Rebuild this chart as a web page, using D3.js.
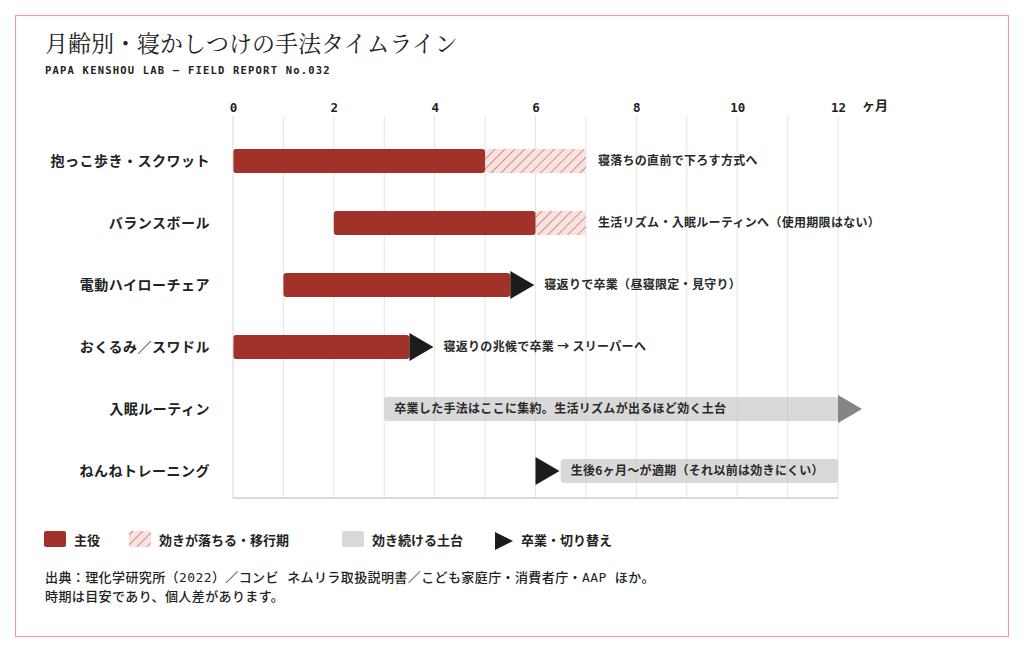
<!DOCTYPE html>
<html>
<head>
<meta charset="utf-8">
<script src="https://cdn.jsdelivr.net/npm/d3@7"></script>
<style>
  body { margin: 0; background: #fff; }
  svg text { font-family: "Noto Sans CJK JP", "Noto Sans", sans-serif; }
</style>
</head>
<body>
<div id="chart"></div>
<script>
// row labels
var methods = ["抱っこ歩き・スクワット", "バランスボール", "電動ハイローチェア", "おくるみ／スワドル", "入眠ルーティン", "ねんねトレーニング"];
// main phase (months)
var mainStart = [0, 2, 1, 0, null, null];
var mainEnd   = [5, 6, 5.5, 3.5, null, null];
// fading / transition phase ends (starts at mainEnd)
var fadeEnd   = [7, 7, null, null, null, null];
// base that keeps working
var baseStart = [null, null, null, null, 3, 6.5];
var baseEnd   = [null, null, null, null, 12, 12];
// graduate / switch marker (months)
var switchAt  = [null, null, 5.5, 3.5, 12, 6];
var switchKind = [null, null, "end", "end", "base", "end"];
var notes = [
  "寝落ちの直前で下ろす方式へ",
  "生活リズム・入眠ルーティンへ（使用期限はない）",
  "寝返りで卒業（昼寝限定・見守り）",
  "寝返りの兆候で卒業 → スリーパーへ",
  "卒業した手法はここに集約。生活リズムが出るほど効く土台",
  "生後6ヶ月〜が適期（それ以前は効きにくい）"
];
var tickMonths = [0, 2, 4, 6, 8, 10, 12];
var gridMonths = [1, 2, 3, 4, 5, 6, 7, 8, 9, 10, 11, 12];
var legendItems = ["主役", "効きが落ちる・移行期", "効き続ける土台", "卒業・切り替え"];
var sourceLines = [
  "出典：理化学研究所（2022）／コンビ ネムリラ取扱説明書／こども家庭庁・消費者庁・AAP ほか。",
  "時期は目安であり、個人差があります。"
];

var width = 1024, height = 652;
var red = "#a0322a", grey = "#c4c4c4", ink = "#1c1c1c";

var svg = d3.select("#chart").append("svg")
    .attr("width", width)
    .attr("height", height);

var defs = svg.append("defs");
var pat = defs.append("pattern")
    .attr("id", "hatch")
    .attr("patternUnits", "userSpaceOnUse")
    .attr("width", 7).attr("height", 7)
    .attr("patternTransform", "rotate(45)");
pat.append("rect").attr("width", 7).attr("height", 7).attr("fill", "#f8e3e1");
pat.append("line").attr("x1", 0).attr("y1", 0).attr("x2", 0).attr("y2", 7)
    .attr("stroke", "#d98a84").attr("stroke-width", 2);

// frame
svg.append("rect")
    .attr("x", 15.5).attr("y", 15.5)
    .attr("width", 993).attr("height", 621)
    .attr("fill", "#fff")
    .attr("stroke", "#e5a3a0").attr("stroke-width", 1.2);

// title
svg.append("text")
    .attr("x", 45).attr("y", 52)
    .style("font-family", "'Noto Serif CJK JP', 'Noto Serif JP', serif")
    .style("font-size", "23px")
    .attr("fill", "#222")
    .text("月齢別・寝かしつけの手法タイムライン");

svg.append("text")
    .attr("x", 45).attr("y", 74)
    .style("font-family", "'DejaVu Sans Mono', monospace")
    .style("font-size", "10.5px")
    .style("font-weight", "bold")
    .style("letter-spacing", "1.2px")
    .attr("fill", "#222")
    .text("PAPA KENSHOU LAB — FIELD REPORT No.032");

// scales
var x = d3.scaleLinear().domain([0, 12]).range([233, 838]);
var y = d3.scalePoint().domain(methods).range([161, 471]);
var barH = 24, arrowW = 24, arrowH = 28;
var gridTop = 116, gridBottom = 498;

// grid
svg.append("g").selectAll("line")
  .data(gridMonths)
  .join("line")
    .attr("x1", function(d) { return x(d); })
    .attr("x2", function(d) { return x(d); })
    .attr("y1", gridTop).attr("y2", gridBottom)
    .attr("stroke", "#e4e4e4").attr("stroke-width", 1);

// top axis
var axis = svg.append("g")
    .attr("transform", "translate(0," + 112 + ")")
    .call(d3.axisTop(x).tickValues(tickMonths).tickSize(0).tickPadding(0));
axis.select(".domain").remove();
axis.selectAll("text")
    .style("font-family", "'DejaVu Sans Mono', monospace")
    .style("font-size", "12.5px")
    .style("font-weight", "bold")
    .attr("fill", "#222");

svg.append("text")
    .attr("x", x(12) + 24).attr("y", 110)
    .style("font-size", "13px").style("font-weight", "bold")
    .attr("fill", "#222")
    .text("ヶ月");

// row labels
svg.append("g").selectAll("text")
  .data(methods)
  .join("text")
    .attr("x", 210)
    .attr("y", function(d) { return y(d); })
    .attr("dy", "0.36em")
    .attr("text-anchor", "end")
    .style("font-size", "14px")
    .style("font-weight", "bold")
    .style("letter-spacing", "0.5px")
    .attr("fill", "#222")
    .text(function(d) { return d; });

var rows = methods.map(function(m, i) { return i; });

// base bars (semi transparent so the grid shows through)
svg.append("g").selectAll("rect")
  .data(rows.filter(function(i) { return baseStart[i] != null; }))
  .join("rect")
    .attr("x", function(i) { return x(baseStart[i]); })
    .attr("width", function(i) { return x(baseEnd[i]) - x(baseStart[i]); })
    .attr("y", function(i) { return y(methods[i]) - barH / 2; })
    .attr("height", barH)
    .attr("rx", 3)
    .attr("fill", grey).attr("fill-opacity", 0.65);

// fading bars
svg.append("g").selectAll("rect")
  .data(rows.filter(function(i) { return fadeEnd[i] != null; }))
  .join("rect")
    .attr("x", function(i) { return x(mainEnd[i]); })
    .attr("width", function(i) { return x(fadeEnd[i]) - x(mainEnd[i]); })
    .attr("y", function(i) { return y(methods[i]) - barH / 2; })
    .attr("height", barH)
    .attr("rx", 3)
    .attr("fill", "url(#hatch)");

// main bars
svg.append("g").selectAll("rect")
  .data(rows.filter(function(i) { return mainStart[i] != null; }))
  .join("rect")
    .attr("x", function(i) { return x(mainStart[i]); })
    .attr("width", function(i) { return x(mainEnd[i]) - x(mainStart[i]); })
    .attr("y", function(i) { return y(methods[i]) - barH / 2; })
    .attr("height", barH)
    .attr("rx", 3)
    .attr("fill", red);

// switch arrows
svg.append("g").selectAll("path")
  .data(rows.filter(function(i) { return switchAt[i] != null; }))
  .join("path")
    .attr("d", function(i) {
      var x0 = x(switchAt[i]), cy = y(methods[i]);
      return "M" + x0 + "," + (cy - arrowH / 2) + "L" + (x0 + arrowW) + "," + cy + "L" + x0 + "," + (cy + arrowH / 2) + "Z";
    })
    .attr("fill", function(i) { return switchKind[i] == "base" ? "#858585" : ink; });

// notes
svg.append("g").selectAll("text")
  .data(rows)
  .join("text")
    .attr("x", function(i) {
      if (baseStart[i] != null) return x(baseStart[i]) + 10;
      if (fadeEnd[i] != null) return x(fadeEnd[i]) + 12;
      return x(switchAt[i]) + arrowW + 10;
    })
    .attr("y", function(i) { return y(methods[i]); })
    .attr("dy", "0.36em")
    .style("font-size", "12px")
    .style("font-weight", "bold")
    .style("letter-spacing", "0.3px")
    .attr("fill", "#2a2a2a")
    .text(function(i) { return notes[i]; });

// left and bottom axis lines
svg.append("line")
    .attr("x1", x(0)).attr("x2", x(0))
    .attr("y1", gridTop).attr("y2", gridBottom)
    .attr("stroke", "#d6d6d6");
svg.append("line")
    .attr("x1", x(0)).attr("x2", x(12))
    .attr("y1", gridBottom).attr("y2", gridBottom)
    .attr("stroke", "#b5b5b5").attr("stroke-width", 1.2);

// legend
var legendX = [44, 129, 342, 495];
var legend = svg.append("g");
legend.append("rect").attr("x", legendX[0]).attr("y", 531).attr("width", 22).attr("height", 16).attr("rx", 2).attr("fill", red);
legend.append("rect").attr("x", legendX[1]).attr("y", 531).attr("width", 22).attr("height", 16).attr("rx", 2).attr("fill", "url(#hatch)");
legend.append("rect").attr("x", legendX[2]).attr("y", 531).attr("width", 22).attr("height", 16).attr("rx", 2).attr("fill", "#d9d9d9");
legend.append("path").attr("d", "M495,532L513,541L495,550Z").attr("fill", ink);
legend.selectAll("text")
  .data(legendItems)
  .join("text")
    .attr("x", function(d, i) { return legendX[i] + (i == 3 ? 26 : 30); })
    .attr("y", 540)
    .attr("dy", "0.36em")
    .style("font-size", "13px")
    .style("font-weight", "bold")
    .attr("fill", "#222")
    .text(function(d) { return d; });

// source
svg.append("g").selectAll("text")
  .data(sourceLines)
  .join("text")
    .attr("x", 45)
    .attr("y", function(d, i) { return 582 + i * 19; })
    .style("font-family", "'DejaVu Sans Mono', 'Noto Sans CJK JP', monospace")
    .style("font-size", "13px")
    .style("font-weight", "500")
    .style("letter-spacing", "0.4px")
    .attr("fill", "#222")
    .text(function(d) { return d; });
</script>
</body>
</html>
